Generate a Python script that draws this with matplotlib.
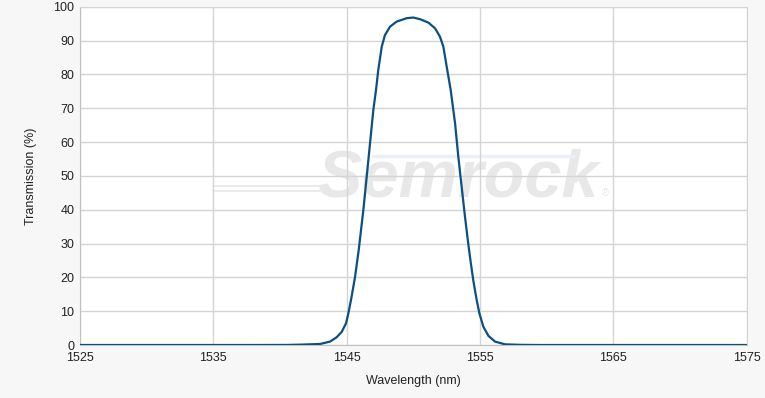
import matplotlib
matplotlib.use("Agg")
import matplotlib.pyplot as plt

# Transmission spectrum
wavelength = [1525.0, 1538.0, 1540.5, 1541.5, 1543.0, 1543.75, 1544.25, 1544.63, 1544.95,
              1545.13, 1545.37, 1545.63, 1545.9, 1546.25, 1546.5,
              1546.75, 1547.0, 1547.2, 1547.37, 1547.63, 1547.87, 1548.25, 1548.75,
              1549.5, 1550.0, 1550.5, 1551.13, 1551.63, 1552.0, 1552.25, 1552.5,
              1552.8, 1553.13, 1553.37, 1553.63, 1553.87, 1554.1, 1554.3, 1554.5,
              1554.75, 1554.95, 1555.25, 1555.63, 1556.13, 1556.87, 1558.0, 1559.5,
              1575.0]
transmission = [0.0, 0.0, 0.02, 0.1, 0.3, 1.0, 2.3, 3.9, 6.4,
                9.4, 14.3, 20.2, 28.0, 39.9, 49.7,
                59.6, 69.5, 75.4, 81.3, 88.2, 91.6, 94.1, 95.6,
                96.6, 96.8, 96.3, 95.3, 93.6, 91.1, 88.2, 82.3,
                75.4, 65.5, 55.7, 46.5, 38.0, 30.5, 24.5, 19.0,
                13.3, 9.4, 5.4, 2.7, 1.0, 0.2, 0.05, 0.0,
                0.0]

x_ticks = [1525, 1535, 1545, 1555, 1565, 1575]
y_ticks = [0, 10, 20, 30, 40, 50, 60, 70, 80, 90, 100]

plt.rcParams["font.family"] = ["Liberation Sans", "DejaVu Sans"]

fig = plt.figure(figsize=(7.65, 3.98), dpi=100, facecolor="#f7f7f7")
ax = fig.add_axes([80 / 765, 53 / 398, 666.7 / 765, 338.3 / 398])
ax.set_facecolor("white")

ax.plot(wavelength, transmission, color="#0b5080", lw=1.6, zorder=3,
        solid_joinstyle="round", solid_capstyle="round")

ax.set_xlim(1525, 1575)
ax.set_ylim(0, 100)
ax.set_xticks(x_ticks)
ax.set_yticks(y_ticks)
ax.tick_params(labelsize=9, colors="#222222", length=0, pad=4)
ax.tick_params(axis="x", pad=5)
ax.grid(True, color="#d4d4d4", lw=1.0, zorder=1)
ax.set_axisbelow(True)
for side in ["top", "right"]:
    ax.spines[side].set_color("#d4d4d4")
for side in ["left", "bottom"]:
    ax.spines[side].set_color("#c0c0c0")

ax.set_xlabel("Wavelength (nm)", fontsize=9, color="#222222", labelpad=8)
ax.set_ylabel("Transmission (%)", fontsize=9, color="#222222", labelpad=12)

# faint watermark
ax.text(0.567, 0.49, "Semrock", transform=ax.transAxes, fontsize=48,
        fontweight="bold", style="italic", color="#e8e8e8", ha="center",
        va="center", zorder=0.5)
ax.text(0.783, 0.45, "\u00ae", transform=ax.transAxes, fontsize=7,
        color="#e8e8e8", ha="left", va="center", zorder=0.5)
ax.plot([0.2, 0.37], [0.455, 0.455], transform=ax.transAxes,
        color="#e8e8e8", lw=1.2, zorder=0.5)
ax.plot([0.2, 0.37], [0.47, 0.47], transform=ax.transAxes,
        color="#e8e8e8", lw=1.2, zorder=0.5)
ax.plot([0.44, 0.74], [0.56, 0.56], transform=ax.transAxes,
        color="#eceefa", lw=2.5, zorder=0.5)

fig.savefig("out.png", dpi=100, facecolor=fig.get_facecolor())
